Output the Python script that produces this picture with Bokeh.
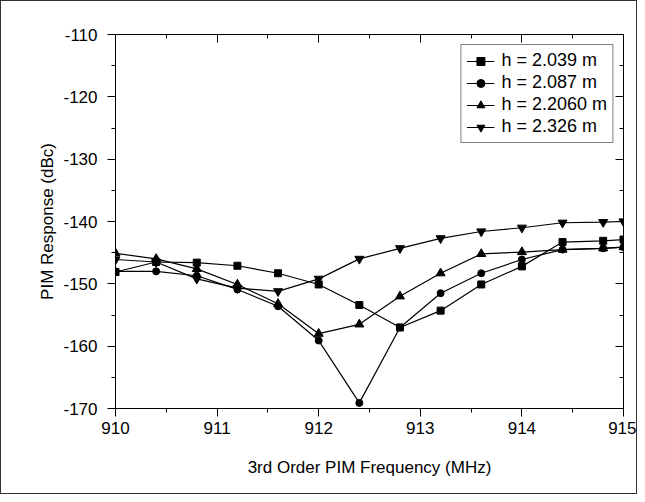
from bokeh.plotting import figure
from bokeh.models import LinearAxis, Legend, LegendItem, FixedTicker, CustomLabelingPolicy
from bokeh.embed import file_html
from bokeh.resources import INLINE

freq = [910, 910.4, 910.8, 911.2, 911.6, 912, 912.4, 912.8, 913.2, 913.6, 914, 914.4, 914.8, 915]
h2039 = [-148.1, -146.5, -146.6, -147.1, -148.3, -150.1, -153.4, -157.0, -154.3, -150.1, -147.2, -143.3, -143.1, -142.9]
h2087 = [-148.0, -148.0, -148.7, -150.9, -153.6, -159.1, -169.1, -157.0, -151.5, -148.3, -146.1, -144.5, -144.3, -144.1]
h2206 = [-145.1, -146.0, -147.6, -150.1, -153.2, -158.0, -156.5, -152.0, -148.3, -145.2, -144.9, -144.5, -144.3, -144.1]
h2326 = [-146.1, -146.5, -149.2, -150.7, -151.2, -149.2, -146.0, -144.3, -142.7, -141.6, -141.0, -140.2, -140.1, -140.0]
labels = ["h = 2.039 m", "h = 2.087 m", "h = 2.2060 m", "h = 2.326 m"]
markers = ["square", "circle", "triangle", "inverted_triangle"]
series = [h2039, h2087, h2206, h2326]
x_ticks = [910, 911, 912, 913, 914, 915]
y_ticks = [-170, -160, -150, -140, -130, -120, -110]
y_tick_labels = ["-170", "-160", "-150", "-140", "-130", "-120", "-110"]

FONT = "Liberation Sans"

p = figure(width=637, height=494, output_backend="svg", toolbar_location=None,
           x_range=(910, 915), y_range=(-170, -110),
           min_border_left=114, min_border_right=15, min_border_top=33, min_border_bottom=87)
p.styles = {"border": "1px solid #333"}
p.xgrid.visible = False
p.ygrid.visible = False
p.outline_line_color = None
p.background_fill_color = "white"
p.border_fill_color = "white"

items = []
sizes = [7, 7, 9, 9]
for lab, mk, ys, sz in zip(labels, markers, series, sizes):
    r1 = p.line(freq, ys, line_color="black", line_width=1.2)
    r2 = p.scatter(freq, ys, marker=mk, size=sz, fill_color="black", line_color="black")
    items.append(LegendItem(label=lab, renderers=[r1, r2]))

legend = Legend(items=items, location="top_right")
legend.label_text_font = FONT
legend.label_text_font_size = "18px"
legend.label_text_color = "black"
legend.border_line_color = "black"
legend.border_line_width = 1
legend.glyph_width = 28
legend.glyph_height = 20
legend.spacing = 1
legend.padding = 5
legend.margin = 10
legend.label_standoff = 7
p.add_layout(legend, "center")

hide_labels = CustomLabelingPolicy(code="return new Set()")

def style_axis(ax, ticks, inside=False):
    ax.ticker = FixedTicker(ticks=ticks, minor_ticks=[t + (ticks[1] - ticks[0]) / 2 for t in ticks[:-1]])
    ax.axis_line_color = "black"
    ax.axis_line_width = 1
    ax.major_tick_line_color = "black"
    ax.minor_tick_line_color = "black"
    if inside:
        ax.major_tick_in = 8
        ax.major_tick_out = 0
        ax.minor_tick_in = 4
        ax.minor_tick_out = 0
        ax.major_label_policy = hide_labels
        ax.major_label_text_font_size = "1px"
        ax.major_label_standoff = 0
    else:
        ax.major_tick_in = 0
        ax.major_tick_out = 8
        ax.minor_tick_in = 0
        ax.minor_tick_out = 4
        ax.major_label_text_font = FONT
        ax.major_label_text_font_size = "17px"
        ax.major_label_text_color = "black"
        ax.axis_label_text_font = FONT
        ax.axis_label_text_font_size = "17px"
        ax.axis_label_text_font_style = "normal"
        ax.axis_label_text_color = "black"

style_axis(p.xaxis[0], x_ticks)
p.xaxis[0].axis_label = "3rd Order PIM Frequency (MHz)"
p.xaxis[0].major_label_standoff = 5
p.xaxis[0].axis_label_standoff = 21

style_axis(p.yaxis[0], y_ticks)
p.yaxis[0].axis_label = "PIM Response (dBc)"
p.yaxis[0].major_label_standoff = 10
p.yaxis[0].axis_label_standoff = 3
p.yaxis[0].major_label_overrides = dict(zip(y_ticks, y_tick_labels))

top = LinearAxis()
style_axis(top, x_ticks, inside=True)
p.add_layout(top, "above")
right = LinearAxis()
style_axis(right, y_ticks, inside=True)
p.add_layout(right, "right")

open("out.html", "w").write(file_html(p, INLINE))
